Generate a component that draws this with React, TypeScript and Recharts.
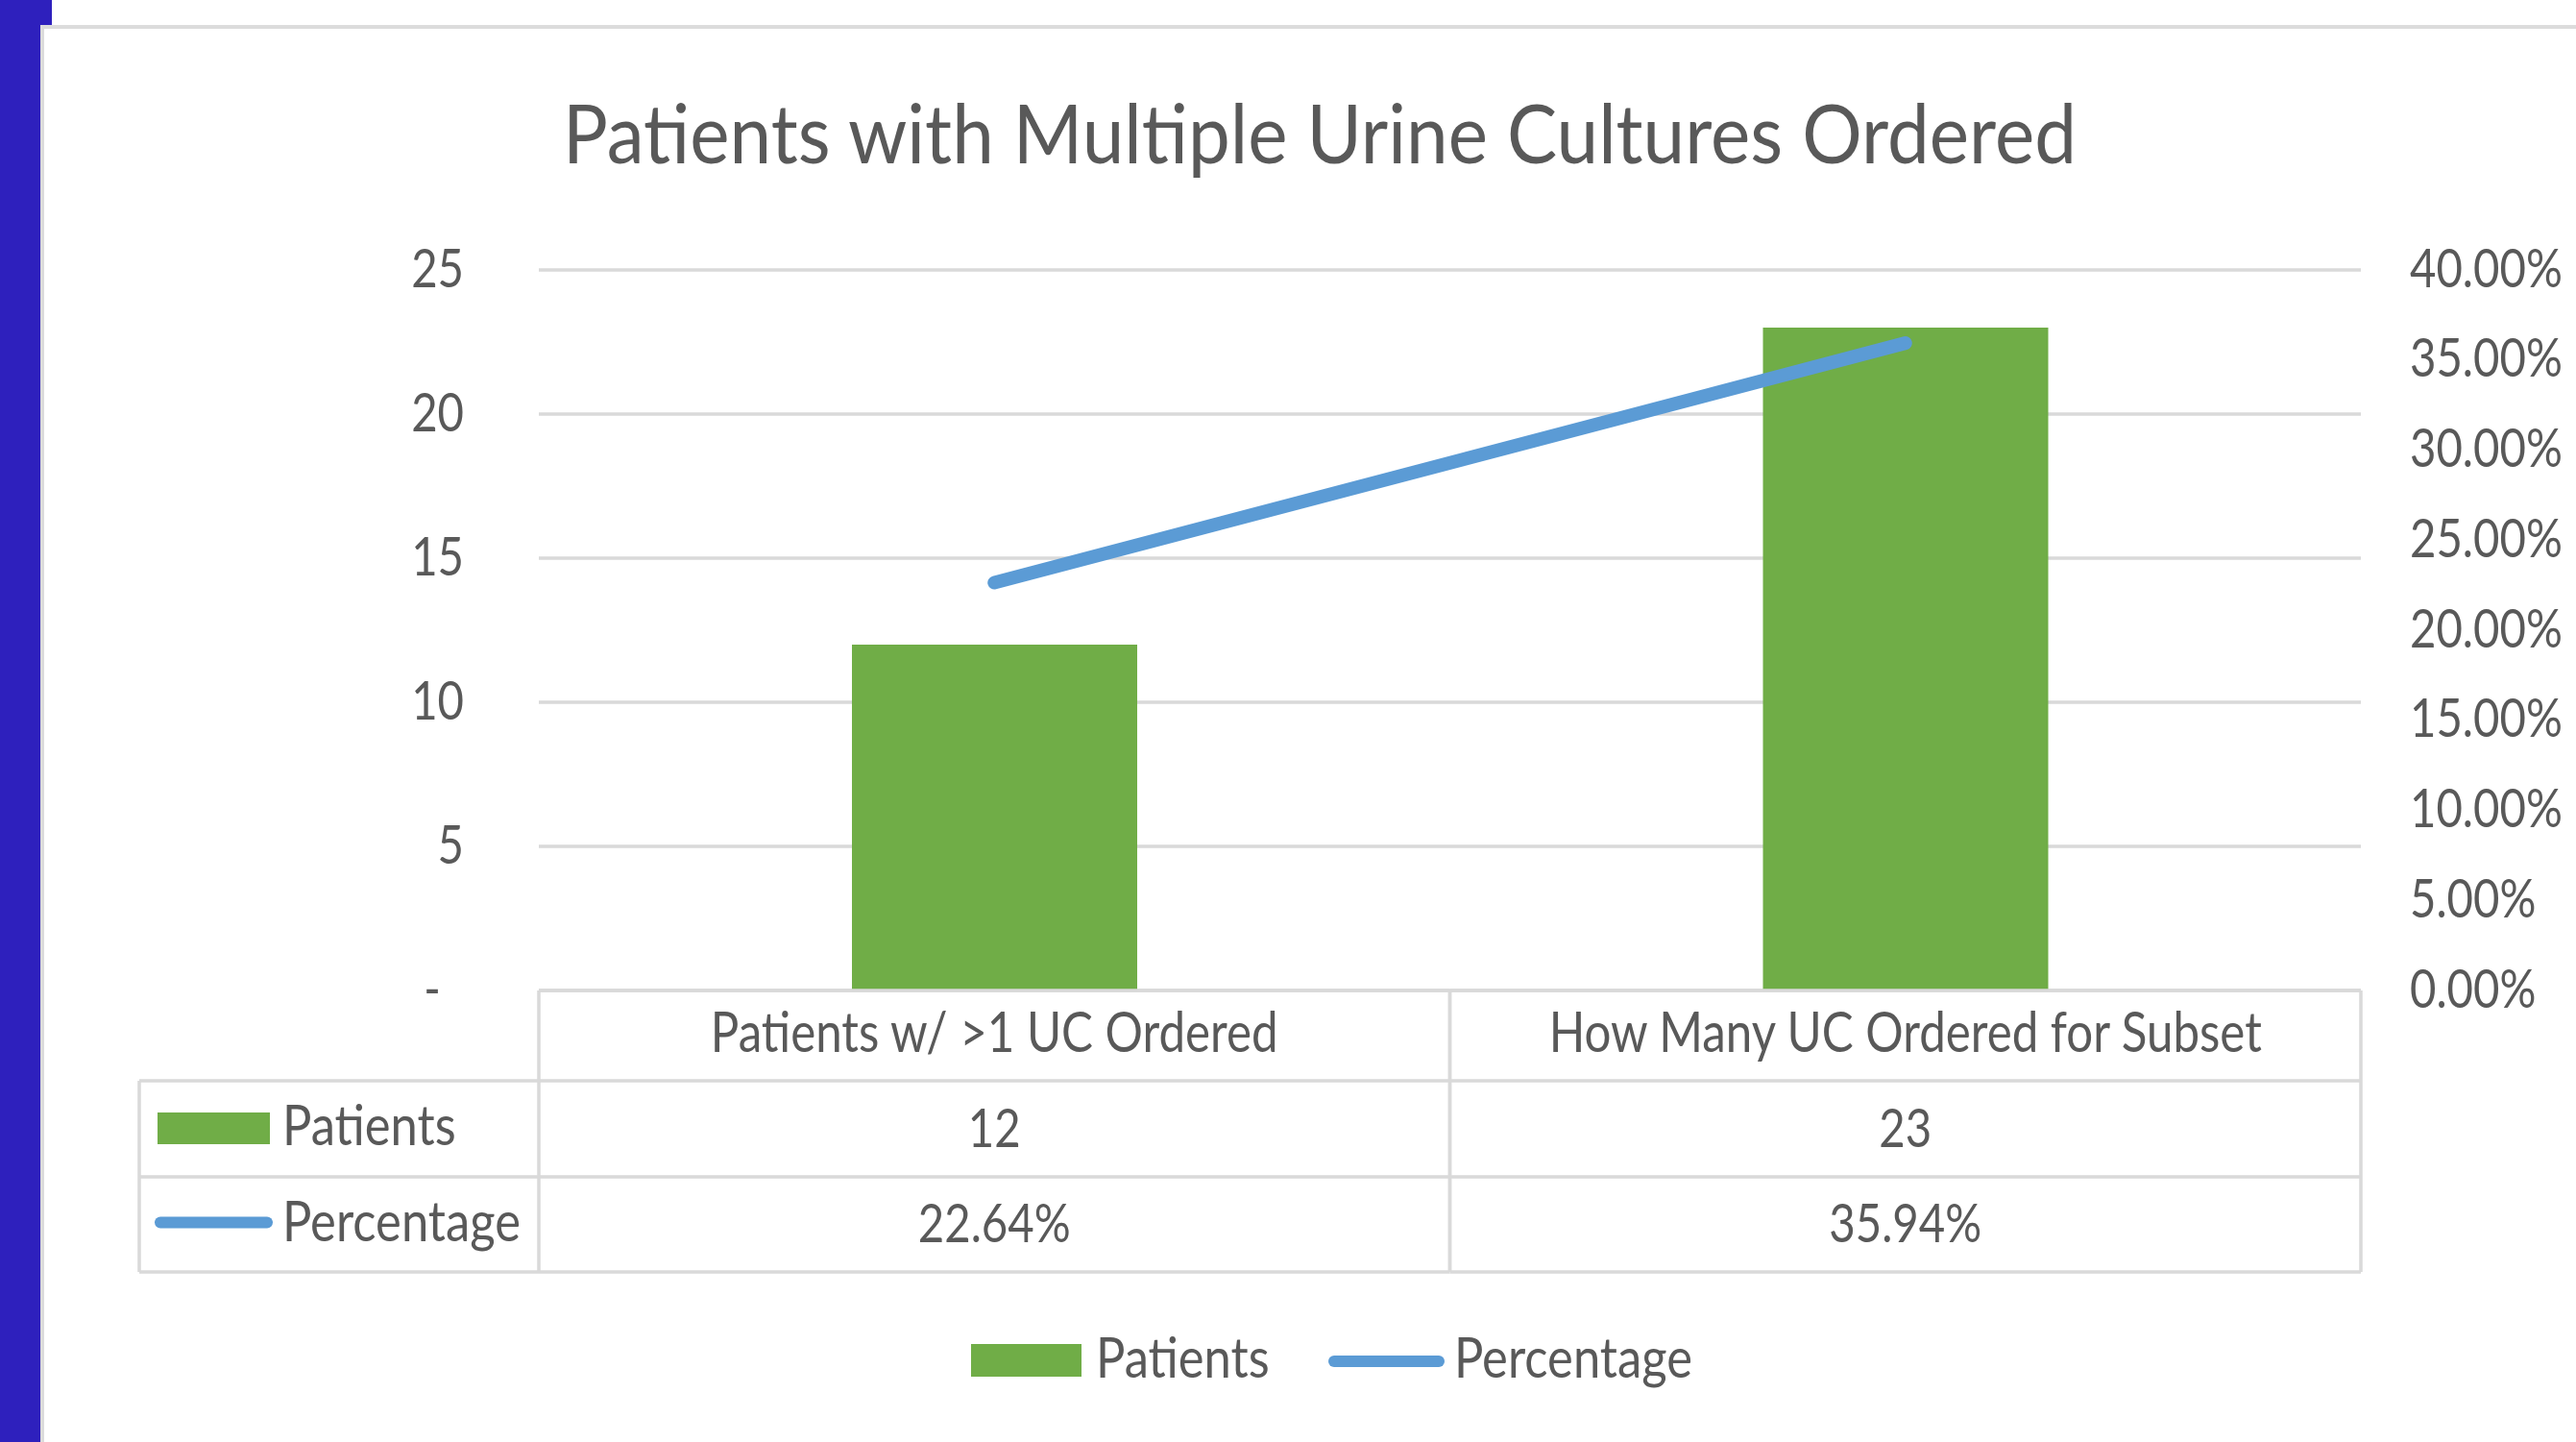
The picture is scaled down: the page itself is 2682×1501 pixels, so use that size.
import React from "react";
import { ComposedChart, Bar, Line, XAxis, YAxis, CartesianGrid } from "recharts";

const categories = ["Patients w/ >1 UC Ordered", "How Many UC Ordered for Subset"];
const patients = [12, 23];
const percentage = [0.2264, 0.3594];
const leftTicks = [0, 5, 10, 15, 20, 25];
const rightTicks = [0, 0.05, 0.1, 0.15, 0.2, 0.25, 0.3, 0.35, 0.4];
const seriesNames = ["Patients", "Percentage"];
const titleText = "Patients with Multiple Urine Cultures Ordered";

const data = categories.map((c, i) => ({ category: c, patients: patients[i], percentage: percentage[i] }));

const W = 2682;
const H = 1501;
const GREEN = "#70AD47";
const BLUE = "#5B9BD5";
const GRID = "#D9D9D9";
const TEXT = "#595959";
const FONT = "Lato, 'Open Sans', sans-serif";
const LEFT_AXIS_W = 561;
const RIGHT_AXIS_W = 224;
const TOP = 281;
const XAXIS_H = 470;
const PLOT_W = W - LEFT_AXIS_W - RIGHT_AXIS_W;
const ROWS = [0, 94, 194, 293];
const TABLE_LEFT = 145;

const fmtPct = (v: number) => (v * 100).toFixed(2) + "%";

function T({ x, y, anchor = "start", size = 57, sx = 0.83, children }: any) {
  return (
    <text
      transform={`translate(${x},${y + size * 0.36}) scale(${sx},1)`}
      textAnchor={anchor}
      fontSize={size}
      fontFamily={FONT}
      fill={TEXT}
    >
      {children}
    </text>
  );
}

function LeftTick(props: any) {
  const { x, y, payload } = props;
  const label = payload.value === 0 ? "-\u00A0\u00A0" : String(payload.value);
  return (
    <T x={x} y={y - 3} anchor="end" size={57} sx={0.83}>
      <tspan style={{ whiteSpace: "pre" }}>{label}</tspan>
    </T>
  );
}

function RightTick(props: any) {
  const { x, y, payload } = props;
  return (
    <T x={x} y={y - 3} anchor="start" size={57} sx={0.83}>
      {fmtPct(payload.value)}
    </T>
  );
}

function TableTick(props: any) {
  const { x, y, payload } = props;
  const i = payload.index;
  const bw = PLOT_W / categories.length;
  const x0 = x - bw / 2;
  const x1 = x + bw / 2;
  const rowY = ROWS.map((r) => y + r);
  const mid = (k: number) => (rowY[k] + rowY[k + 1]) / 2;
  return (
    <g>
      {rowY.map((ry, k) => (
        <line key={k} x1={x0} x2={x1} y1={ry} y2={ry} stroke={GRID} strokeWidth={3.5} />
      ))}
      <line x1={x0} x2={x0} y1={rowY[0]} y2={rowY[3]} stroke={GRID} strokeWidth={3.5} />
      <line x1={x1} x2={x1} y1={rowY[0]} y2={rowY[3]} stroke={GRID} strokeWidth={3.5} />
      <T x={x} y={mid(0) - 4} anchor="middle" size={59} sx={0.835}>{categories[i]}</T>
      <T x={x} y={mid(1) - 2} anchor="middle" size={57} sx={0.83}>{String(patients[i])}</T>
      <T x={x} y={mid(2) - 2} anchor="middle" size={57} sx={0.83}>{fmtPct(percentage[i])}</T>
    </g>
  );
}

export default function App() {
  const tableTop = H - XAXIS_H;
  const rowY = ROWS.map((r) => tableTop + r);
  const mid = (k: number) => (rowY[k] + rowY[k + 1]) / 2;
  return (
    <div style={{ position: "absolute", left: 0, top: 0, width: W, height: H, background: "#fff", overflow: "hidden" }}>
      <svg width={W} height={H} style={{ position: "absolute", left: 0, top: 0 }}>
        <rect x={0} y={0} width={54} height={27} fill="#2E20BD" />
        <rect x={0} y={0} width={42} height={H} fill="#2E20BD" />
        <line x1={42} x2={W} y1={28} y2={28} stroke="#DCDCDC" strokeWidth={4} />
        <line x1={44} x2={44} y1={26} y2={H} stroke="#DCDCDC" strokeWidth={4} />
      </svg>
      <div style={{ position: "absolute", left: 0, top: 0 }}>
        <ComposedChart width={W} height={H} data={data} margin={{ top: TOP, right: 0, bottom: 0, left: 0 }}>
          <CartesianGrid yAxisId="left" horizontal={true} vertical={false} stroke={GRID} strokeWidth={3.5} />
          <XAxis
            dataKey="category"
            height={XAXIS_H}
            axisLine={false}
            tickLine={false}
            tickSize={0}
            tickMargin={0}
            interval={0}
            tick={<TableTick />}
          />
          <YAxis
            yAxisId="left"
            orientation="left"
            width={LEFT_AXIS_W}
            domain={[0, 25]}
            ticks={leftTicks}
            axisLine={false}
            tickLine={false}
            tickSize={0}
            tickMargin={78}
            tick={<LeftTick />}
          />
          <YAxis
            yAxisId="right"
            orientation="right"
            width={RIGHT_AXIS_W}
            domain={[0, 0.4]}
            ticks={rightTicks}
            axisLine={false}
            tickLine={false}
            tickSize={0}
            tickMargin={51}
            tick={<RightTick />}
          />
          <Bar yAxisId="left" dataKey="patients" name={seriesNames[0]} fill={GREEN} barSize={297} isAnimationActive={false} />
          <Line
            yAxisId="right"
            type="linear"
            dataKey="percentage"
            name={seriesNames[1]}
            stroke={BLUE}
            strokeWidth={14}
            strokeLinecap="round"
            dot={false}
            activeDot={false}
            isAnimationActive={false}
          />
        </ComposedChart>
      </div>
      <svg width={W} height={H} style={{ position: "absolute", left: 0, top: 0, pointerEvents: "none" }}>
        <text
          transform={`translate(1374,170) scale(0.92,1)`}
          textAnchor="middle"
          fontSize={85}
          fontFamily={FONT}
          fill={TEXT}
        >
          {titleText}
        </text>
        {[1, 2, 3].map((k) => (
          <line key={k} x1={TABLE_LEFT} x2={LEFT_AXIS_W} y1={rowY[k]} y2={rowY[k]} stroke={GRID} strokeWidth={3.5} />
        ))}
        <line x1={TABLE_LEFT} x2={TABLE_LEFT} y1={rowY[1]} y2={rowY[3]} stroke={GRID} strokeWidth={3.5} />
        <rect x={164} y={mid(1) - 17} width={117} height={33} fill={GREEN} />
        <T x={294} y={mid(1) - 4} size={59} sx={0.86}>{seriesNames[0]}</T>
        <line x1={167} x2={278} y1={mid(2) - 2} y2={mid(2) - 2} stroke={BLUE} strokeWidth={12} strokeLinecap="round" />
        <T x={294} y={mid(2) - 4} size={59} sx={0.86}>{seriesNames[1]}</T>
        <rect x={1011} y={1399} width={115} height={34} fill={GREEN} />
        <T x={1141} y={1413} size={59} sx={0.86}>{seriesNames[0]}</T>
        <line x1={1389} x2={1498} y1={1417} y2={1417} stroke={BLUE} strokeWidth={12} strokeLinecap="round" />
        <T x={1514} y={1413} size={59} sx={0.86}>{seriesNames[1]}</T>
      </svg>
    </div>
  );
}
